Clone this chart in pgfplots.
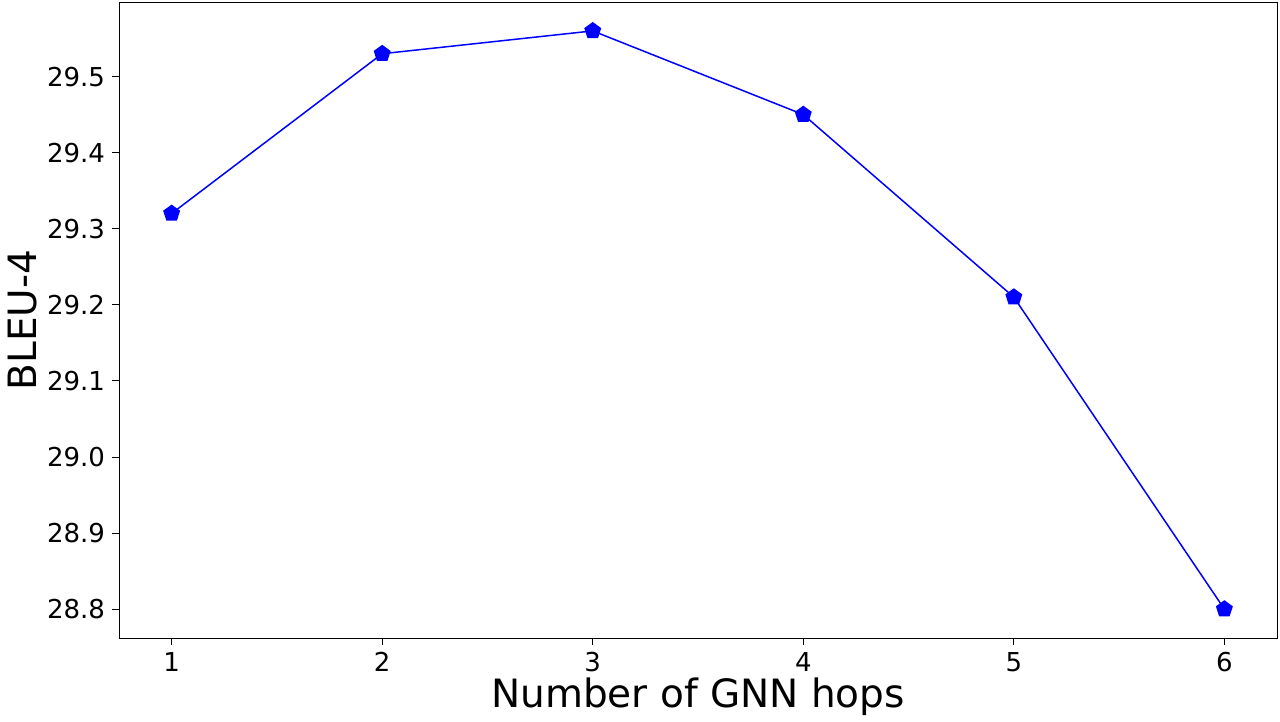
\documentclass[border=0pt]{standalone}
\usepackage{pgfplots}
\pgfplotsset{compat=1.18}
\usepackage{fontspec}
\setmainfont{DejaVu Sans}
\usetikzlibrary{plotmarks}
\begin{document}
\begin{tikzpicture}
  \begin{axis}[
      scale only axis,
      width=579pt,
      height=318pt,
      xmin=0.75, xmax=6.25,
      ymin=28.762, ymax=29.598,
      xtick={1,2,3,4,5,6},
      ytick={28.8,28.9,29.0,29.1,29.2,29.3,29.4,29.5},
      yticklabel style={/pgf/number format/.cd,fixed,fixed zerofill,precision=1},
      /pgf/number format/assume math mode=true,
      tick label style={font=\fontsize{13pt}{15pt}\selectfont},
      tick align=outside,
      major tick length=3.5pt,
      tick style={black, line width=0.4pt},
      xtick pos=bottom, ytick pos=left,
      axis line style={line width=0.4pt},
      xlabel={Number of GNN hops},
      ylabel={BLEU-4},
      label style={font=\fontsize{19.5pt}{23pt}\selectfont},
      xlabel style={at={(axis description cs:0.5,-0.0928)}, anchor=center},
      ylabel style={at={(axis description cs:-0.0829,0.5)}, anchor=center},
  ]
  \addplot[
      color=blue,
      line width=0.75pt,
      mark=pentagon*,
      mark size=4pt,
      mark options={fill=blue, draw=blue},
      ]
      coordinates {
          (1, 29.32)
          (2, 29.53)
          (3, 29.56)
          (4, 29.45)
          (5, 29.21)
          (6, 28.80)
      };
  \end{axis}
  \pgfresetboundingbox
  \path[use as bounding box] (current axis.south west) ++(-59.5pt,-41.5pt) rectangle ([shift={(1.5pt,1pt)}]current axis.north east);
\end{tikzpicture}
\end{document}
